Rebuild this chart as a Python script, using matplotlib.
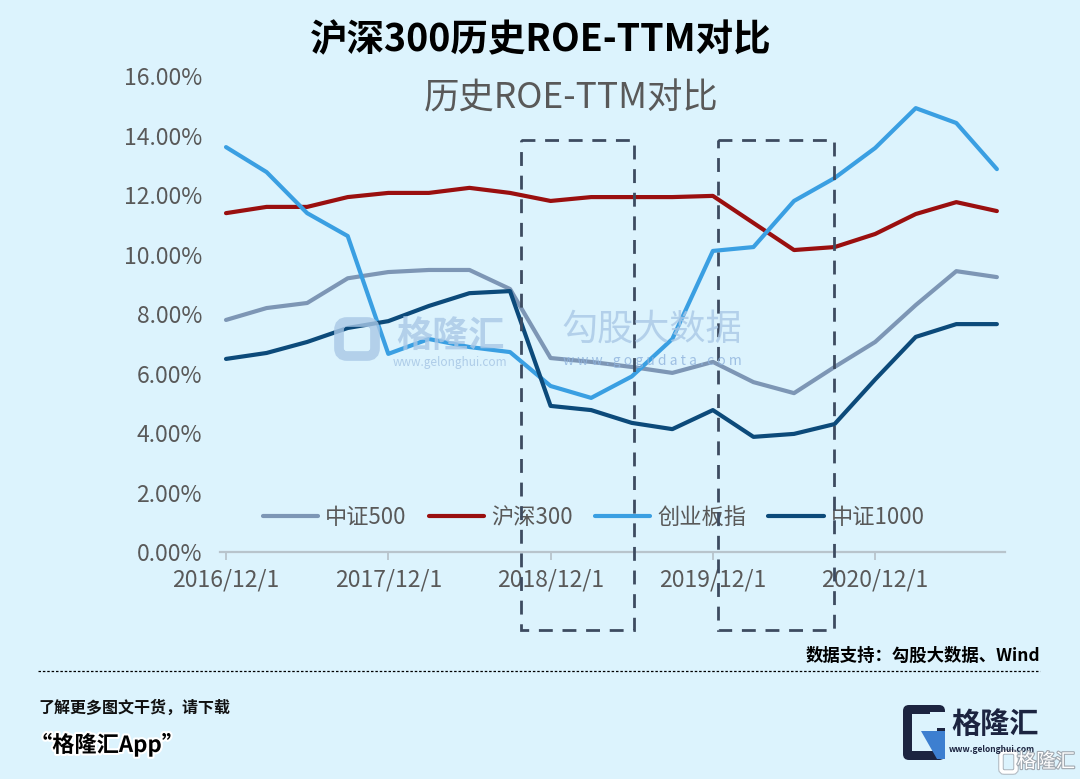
# -*- coding: utf-8 -*-
"""
沪深300历史ROE-TTM对比 图表复现
"""

import matplotlib
matplotlib.use('Agg')
import matplotlib.pyplot as plt
import matplotlib.patheffects as pe
from matplotlib.patches import FancyBboxPatch, Rectangle, Polygon
import numpy as np


# 数据（单位：%）
lstDates = [
	'2016/12/1', '2017/3/1', '2017/6/1', '2017/9/1',
	'2017/12/1', '2018/3/1', '2018/6/1', '2018/9/1',
	'2018/12/1', '2019/3/1', '2019/6/1', '2019/9/1',
	'2019/12/1', '2020/3/1', '2020/6/1', '2020/9/1',
	'2020/12/1', '2021/3/1', '2021/6/1', '2021/9/1',
]
arrZZ500 = [7.80, 8.20, 8.37, 9.20, 9.41, 9.48, 9.48, 8.84, 6.52, 6.39,
	6.22, 6.02, 6.39, 5.71, 5.34, 6.22, 7.06, 8.30, 9.44, 9.24]
arrHS300 = [11.39, 11.60, 11.60, 11.93, 12.07, 12.07, 12.24, 12.07, 11.80, 11.93,
	11.93, 11.93, 11.97, 11.06, 10.15, 10.25, 10.69, 11.36, 11.76, 11.46]
arrCYB = [13.61, 12.77, 11.39, 10.62, 6.66, 7.16, 6.89, 6.72, 5.58, 5.18,
	5.90, 7.16, 10.12, 10.25, 11.80, 12.57, 13.58, 14.92, 14.42, 12.87]
arrZZ1000 = [6.49, 6.69, 7.06, 7.53, 7.76, 8.27, 8.70, 8.77, 4.91, 4.77,
	4.34, 4.13, 4.77, 3.87, 3.97, 4.30, 5.80, 7.23, 7.66, 7.66]
lstSeriesNames = ['中证500', '沪深300', '创业板指', '中证1000']
lstYTicks = [0, 2, 4, 6, 8, 10, 12, 14, 16]

# 样式
sBgColor = '#dcf3fd'
sTickColor = '#595959'
lstColors = ['#7d96b5', '#9a0f0f', '#3a9fe2', '#0c4a7a']

plt.rcParams['font.family'] = ['Noto Sans CJK SC', 'DejaVu Sans']
plt.rcParams['axes.unicode_minus'] = False

fig = plt.figure(figsize=(10.8, 7.79), dpi=100, facecolor=sBgColor)

# 主图区域
ax = fig.add_axes([220 / 1080, 1 - 552 / 779, 785 / 1080, 476 / 779])
ax.set_facecolor('none')
arrX = np.arange(len(lstDates))
for lstVals, sName, sColor in zip([arrZZ500, arrHS300, arrCYB, arrZZ1000], lstSeriesNames, lstColors):
	ax.plot(arrX, lstVals, color=sColor, lw=3.0, label=sName,
		solid_capstyle='round', solid_joinstyle='round')

ax.set_xlim(-0.148, 19.2)
ax.set_ylim(0, 16)
ax.set_yticks(lstYTicks)
ax.set_yticklabels([f'{v:.2f}%' for v in lstYTicks])
ax.set_xticks(arrX[::4])
ax.set_xticklabels(lstDates[::4])
ax.tick_params(axis='y', length=0, pad=13, labelsize=16.5, labelcolor=sTickColor)
ax.tick_params(axis='x', length=6, width=1.3, color='#b8c4cc', direction='out', pad=6,
	labelsize=16.5, labelcolor=sTickColor)
for sSide in ['top', 'right', 'left']:
	ax.spines[sSide].set_visible(False)
ax.spines['bottom'].set_color('#b8c4cc')
ax.spines['bottom'].set_linewidth(1.6)

ax.legend(loc='center', bbox_to_anchor=(0.476, 0.0735), ncol=4, frameon=False,
	fontsize=16, handlelength=2.5, handletextpad=0.3, columnspacing=1.0,
	labelcolor=sTickColor)

# 标题
fig.text(541 / 1080, 1 - 40 / 779, '沪深300历史ROE-TTM对比', ha='center', va='center',
	fontsize=27, fontweight='bold', color='black')
fig.text(571 / 1080, 1 - 99 / 779, '历史ROE-TTM对比', ha='center', va='center',
	fontsize=25.5, color=sTickColor)

# 覆盖层（像素坐标）：虚线框、水印、页脚
axO = fig.add_axes([0, 0, 1, 1])
axO.set_xlim(0, 1080)
axO.set_ylim(779, 0)
axO.axis('off')
axO.patch.set_alpha(0)

# 水印
sWmColor = '#a9c8e6'
axO.add_patch(FancyBboxPatch((339, 322), 36, 34, boxstyle='round,pad=0,rounding_size=8',
	fc='none', ec=sWmColor, lw=7, alpha=0.8))
axO.text(450, 336, '格隆汇', ha='center', va='center', fontsize=26, fontweight='bold',
	color=sWmColor, alpha=0.8)
axO.text(450, 362, 'www.gelonghui.com', ha='center', va='center', fontsize=8.5,
	color=sWmColor, alpha=0.9)
axO.text(652, 330, '勾股大数据', ha='center', va='center', fontsize=26,
	color=sWmColor, alpha=0.8)
axO.text(652, 361, 'w w w . g o g u d a t a . c o m', ha='center', va='center', fontsize=10,
	color='#8fb3dd', alpha=0.8)

# 虚线框
for fX0, fX1 in [(521, 634), (718, 834)]:
	axO.add_patch(Rectangle((fX0, 140), fX1 - fX0, 490, fill=False, ec='#3d4b60',
		lw=2.0, ls=(0, (5, 3.5))))

# 页脚
axO.text(1040, 656, '数据支持：勾股大数据、Wind', ha='right', va='center', fontsize=12.5,
	fontweight='bold', color='black')
axO.plot([38, 1040], [671, 671], color='black', lw=0.9, ls=(0, (2, 1.5)))
axO.text(38, 708, '了解更多图文干货，请下载', ha='left', va='center', fontsize=11.5,
	fontweight='bold', color='#111111')
axO.text(30, 745, '“格隆汇App”', ha='left', va='center', fontsize=16,
	fontweight='bold', color='black',
	path_effects=[pe.withStroke(linewidth=3, foreground='white')])

# 右下角标志
axO.add_patch(FancyBboxPatch((903, 705), 42, 55, boxstyle='round,pad=0,rounding_size=6',
	fc='#1c2440', ec='none'))
axO.add_patch(Rectangle((912, 714), 25, 37, fc=sBgColor, ec='none'))
axO.add_patch(Rectangle((930, 712), 17, 16, fc=sBgColor, ec='none'))
axO.add_patch(Polygon([(921, 731), (945, 731), (945, 759), (937, 759)], closed=True,
	fc='#3d7fd0', ec='none'))
axO.text(995, 724, '格隆汇', ha='center', va='center', fontsize=21, fontweight='bold',
	color='#1c2440')
axO.text(992, 750, 'www.gelonghui.com', ha='center', va='center', fontsize=6,
	fontweight='bold', color='#1c2440')
axO.add_patch(FancyBboxPatch((1001, 752), 15, 20, boxstyle='round,pad=0,rounding_size=3',
	fc='none', ec='white', lw=2.5,
	path_effects=[pe.withStroke(linewidth=4, foreground='#b0b8c0')]))
axO.text(1046, 762, '格隆汇', ha='center', va='center', fontsize=14, color='white',
	path_effects=[pe.withStroke(linewidth=1.6, foreground='#a0a8b0')])

fig.savefig('out.png', dpi=100, facecolor=sBgColor)
plt.close(fig)
